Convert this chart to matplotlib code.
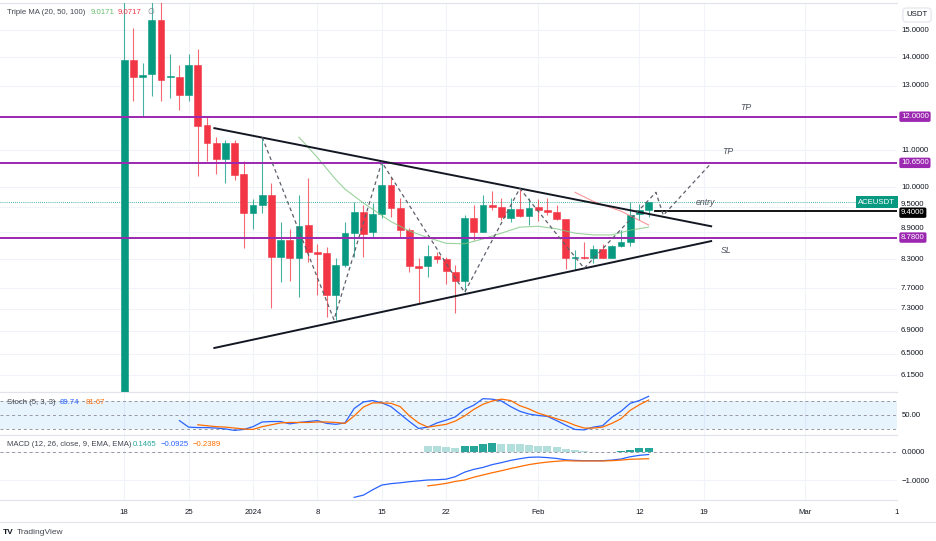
import numpy as np
import matplotlib
matplotlib.use('Agg')
import matplotlib.pyplot as plt
from matplotlib.ticker import NullLocator
from matplotlib.lines import Line2D
from matplotlib.transforms import offset_copy

plt.rcParams['font.family'] = ['Liberation Sans', 'DejaVu Sans']

# daily candles, day 0 = 18 Dec 2023 (ACEUSDT)
opens = [5.5, 13.9, 13.3, 13.4, 15.4, 13.28, 13.3, 12.7, 13.7, 11.75,
         11.2, 10.75, 11.2, 10.35, 9.35, 9.55, 9.8, 8.35, 8.72, 8.33,
         9.06, 8.46, 8.44, 7.56, 8.17, 8.88, 9.38, 8.9, 9.33, 10.07,
         9.47, 8.95, 8.15, 8.15, 8.38, 8.3, 8.03, 7.85, 9.23, 8.9,
         9.55, 9.5, 9.23, 9.45, 9.28, 9.5, 9.44, 9.38, 9.2, 8.32,
         8.34, 8.32, 8.52, 8.32, 8.6, 8.67, 9.33, 9.44]
highs = [16.5, 15.1, 13.8, 16.5, 16.5, 14.1, 13.7, 14.1, 14.3, 12.0,
         11.4, 11.3, 11.3, 10.7, 9.7, 11.4, 10.1, 9.13, 8.97, 9.8,
         10.23, 8.64, 8.57, 8.32, 9.13, 9.62, 9.55, 9.6, 10.67, 10.26,
         9.72, 9.0, 8.32, 8.62, 8.45, 8.35, 8.17, 9.3, 9.56, 9.8,
         9.9, 9.72, 9.72, 9.95, 9.72, 9.7, 9.72, 9.56, 9.2, 8.5,
         8.68, 8.62, 8.64, 8.62, 8.95, 9.62, 9.58, 9.63]
lows = [5.5, 12.5, 12.0, 12.65, 12.5, 12.6, 12.2, 12.5, 10.3, 10.7,
        10.35, 10.1, 10.2, 8.55, 8.97, 9.35, 7.32, 7.83, 7.85, 7.53,
        8.24, 7.56, 7.15, 7.10, 8.13, 8.35, 8.35, 8.77, 9.23, 9.25,
        8.78, 8.03, 7.41, 7.93, 8.22, 7.79, 7.22, 7.63, 8.72, 8.9,
        9.44, 9.18, 9.13, 9.25, 9.07, 9.16, 9.3, 9.18, 8.09, 8.07,
        8.3, 8.22, 8.32, 8.32, 8.57, 8.6, 9.18, 9.25]
closes = [13.9, 13.3, 13.38, 15.4, 13.2, 13.32, 12.7, 13.7, 11.73, 11.2,
          10.75, 11.2, 10.33, 9.35, 9.56, 9.8, 8.35, 8.72, 8.33, 9.04,
          8.45, 8.42, 7.56, 8.17, 8.88, 9.38, 8.86, 9.33, 10.07, 9.47,
          8.95, 8.15, 8.12, 8.38, 8.3, 8.05, 7.85, 9.23, 8.9, 9.55,
          9.5, 9.25, 9.45, 9.28, 9.47, 9.44, 9.38, 9.2, 8.32, 8.34,
          8.33, 8.52, 8.32, 8.59, 8.67, 9.3, 9.44, 9.62]

ma20_days = [19, 21, 23, 24, 26, 29, 31, 33, 35, 37, 39, 41, 43, 45, 47, 49, 51, 53, 55, 57]
ma20_vals = [11.38, 10.8, 10.2, 9.95, 9.6, 9.15, 8.93, 8.78, 8.65, 8.64,
             8.75, 8.88, 9.02, 9.04, 8.98, 8.88, 8.84, 8.84, 8.95, 9.02]
ma50_days = [49, 51, 54, 57]
ma50_vals = [9.87, 9.64, 9.4, 9.07]

stoch_k_start = 6
stoch_k = [38, 24, 23, 23, 22, 20, 17, 19, 25, 35, 36, 36, 31, 34, 36, 38,
           32, 30, 33, 64, 78, 81, 76, 68, 52, 36, 21, 24, 33, 39, 46,
           62, 71, 85, 84, 80, 68, 58, 52, 49, 47, 38, 28, 19, 18, 24, 27,
           45, 58, 75, 81, 90]
stoch_d_start = 8
stoch_d = [29, 27, 25, 24, 22, 20, 19, 25, 29, 33, 34, 34, 34, 35, 35, 34,
           32, 48, 67, 76, 76, 75, 68, 48, 33, 24, 27, 30, 37, 48, 62, 73,
           80, 84, 81, 70, 63, 54, 48, 42, 36, 28, 22, 22, 24, 32, 42, 60,
           72, 82]

macd_start = 25
macd_line = [-1.62, -1.54, -1.35, -1.18, -1.13, -1.10, -1.06, -1.03, -1.0,
             -0.99, -0.97, -0.88, -0.72, -0.62, -0.55, -0.45, -0.38, -0.30,
             -0.24, -0.19, -0.18, -0.20, -0.23, -0.28, -0.30, -0.31, -0.31,
             -0.31, -0.29, -0.25, -0.17, -0.12, -0.09]
signal_start = 33
macd_signal = [-1.21, -1.17, -1.12, -1.05, -1.0, -0.9, -0.82, -0.74, -0.67,
               -0.59, -0.52, -0.45, -0.40, -0.36, -0.33, -0.31, -0.32, -0.32,
               -0.32, -0.32, -0.31, -0.29, -0.26, -0.25, -0.24]
macd_hist = [0.22, 0.21, 0.17, 0.14, 0.21, 0.23, 0.30, 0.33, 0.30, 0.30,
             0.27, 0.24, 0.23, 0.20, 0.18, 0.12, 0.06, 0.04, 0.01, -0.01,
             0.01, 0.04, 0.07, 0.13, 0.15]

price_ticks = [15, 14, 13, 11, 10, 9.5, 8.9, 8.3, 7.7, 7.3, 6.9, 6.5, 6.15]
level_lines = [12.0, 10.65, 8.78]
entry_level = 9.40
entry_from = 57.7
last_price = 9.62

date_ticks = [0, 7, 14, 21, 28, 35, 45, 56, 63, 74, 84]
date_labels = ['18', '25', '2024', '8', '15', '22', 'Feb', '12', '19', 'Mar', '1']

trend_days = [9.8, 63.8]
upper_trend = [11.65, 9.04]
lower_trend = [6.60, 8.70]
zigzag_days = [15, 22.8, 28, 37, 43, 50, 57.8, 58.6, 63.8]
zigzag_prices = [11.38, 7.10, 10.67, 7.62, 9.97, 8.11, 9.87, 9.30, 10.64]

notes = [('TP', 67.6, 12.29), ('TP', 65.6, 10.97), ('entry', 63.2, 9.62), ('SL', 65.4, 8.50)]

GREEN = '#089981'
RED = '#f23645'
PURPLE = '#9c27b0'
GRID = '#f0f3fa'
SEP = '#e0e3eb'
TXT = '#131722'
FS = 5.6

W, H = 936, 541
def fx(px):
    return px / W
def fy(py):
    return 1 - py / H

fig = plt.figure(figsize=(9.36, 5.41), dpi=100)
ax = fig.add_axes([0, fy(392), fx(897), (392 - 3) / H])
ax_st = fig.add_axes([0, fy(435), fx(897), 43 / H], sharex=ax)
ax_md = fig.add_axes([0, fy(500), fx(897), 65 / H], sharex=ax)

# ---- price panel
o = np.array(opens); h = np.array(highs); l = np.array(lows); c = np.array(closes)
days = np.arange(len(c))
cols = np.where(c >= o, GREEN, RED)
ax.set_yscale('log')
ax.vlines(days, l, h, colors=cols, lw=0.8, alpha=0.75, zorder=3)
ax.bar(days, np.abs(c - o), bottom=np.minimum(o, c), width=0.72,
       color=cols, edgecolor=cols, lw=0.4, zorder=4)

ax.plot(ma20_days, ma20_vals, color='#81c784', lw=0.8, alpha=0.8, zorder=5)
ax.plot(ma50_days, ma50_vals, color='#f77c80', lw=0.8, alpha=0.8, zorder=5)

ax.axhline(last_price, color=GREEN, lw=0.6, ls=(0, (1, 1.5)), zorder=2)
for lv in level_lines:
    ax.axhline(lv, color=PURPLE, lw=1.4, zorder=6)
ax.plot([entry_from, 90], [entry_level, entry_level], color='black', lw=1.3, zorder=6)
ax.plot(trend_days, upper_trend, color='#131722', lw=1.4, zorder=6)
ax.plot(trend_days, lower_trend, color='#131722', lw=1.4, zorder=6)
ax.plot(zigzag_days, zigzag_prices, color='#5d606b', lw=0.9, ls=(0, (3, 2.5)), zorder=6)
for txt, dx, py in notes:
    ax.text(dx, py, txt, fontsize=6.3, style='italic', color='#50535e',
            ha='center', va='center', zorder=7)

ax.set_xlim(-13.5, 83.5)
ax.set_ylim(5.89, 16.1)
ax.set_yticks(price_ticks)
ax.yaxis.set_minor_locator(NullLocator())
ax.tick_params(axis='y', length=0, labelleft=False, labelright=False)
ax.grid(True, color=GRID, lw=0.8, zorder=0)
ax.set_axisbelow(True)

# price scale labels (a couple nudged up like on the screen, where boxes sit close)
ytr = ax.get_yaxis_transform()
nudge = {9.5: 3, 8.9: 4}
for v in price_ticks:
    tr = offset_copy(ytr, fig=fig, x=0, y=nudge.get(v, 0), units='dots')
    ax.text(1.0045, v, '%.4f' % v, transform=tr, fontsize=FS, color=TXT,
            ha='left', va='center', clip_on=False, zorder=9)
for lv in level_lines:
    ax.text(1.0045, lv, '%.4f' % lv, transform=ytr, fontsize=FS, color='white',
            ha='left', va='center', clip_on=False, zorder=10,
            bbox=dict(boxstyle='round,pad=0.22', fc=PURPLE, ec='none'))
ax.text(1.0045, entry_level, '%.4f' % entry_level,
        transform=offset_copy(ytr, fig=fig, x=0, y=-1.5, units='dots'), fontsize=FS,
        color='white', ha='left', va='center', clip_on=False, zorder=10,
        bbox=dict(boxstyle='round,pad=0.22', fc='black', ec='none'))
ax.text(0.998, last_price, 'ACEUSDT', transform=ytr, fontsize=FS, color='white',
        ha='right', va='center', zorder=10,
        bbox=dict(boxstyle='square,pad=0.3', fc=GREEN, ec='none'))

# ---- stochastic panel
kd = np.arange(stoch_k_start, stoch_k_start + len(stoch_k))
dd = np.arange(stoch_d_start, stoch_d_start + len(stoch_d))
ax_st.axhspan(20, 80, color='#2196f3', alpha=0.1, lw=0)
for lv in (80, 50, 20):
    ax_st.axhline(lv, color='#9598a1', lw=0.7, ls=(0, (3, 3)))
ax_st.plot(kd, stoch_k, color='#2962ff', lw=0.9)
ax_st.plot(dd, stoch_d, color='#ff6d00', lw=0.9)
ax_st.set_ylim(7.1, 99.3)
ax_st.yaxis.tick_right()
ax_st.set_yticks([50])
ax_st.set_yticklabels(['50.00'])
ax_st.tick_params(axis='y', length=0, pad=3.5, labelsize=FS, labelcolor=TXT)
ax_st.xaxis.grid(True, color=GRID, lw=0.8)
ax_st.set_axisbelow(True)

# ---- MACD panel
hd = np.arange(signal_start, signal_start + len(macd_hist))
hcols = []
prev = None
for v in macd_hist:
    if v >= 0:
        hcols.append('#26a69a' if prev is not None and v > prev else '#b2dfdb')
    else:
        hcols.append('#ff5252' if prev is not None and v < prev else '#ffcdd2')
    prev = v
ax_md.bar(hd, macd_hist, width=0.85, color=hcols, zorder=2)
ax_md.axhline(0, color='#9598a1', lw=0.7, ls=(0, (3, 3)), zorder=1)
md = np.arange(macd_start, macd_start + len(macd_line))
ax_md.plot(md, macd_line, color='#2962ff', lw=0.9, zorder=3)
ax_md.plot(hd, macd_signal, color='#ff6d00', lw=0.9, zorder=3)
ax_md.set_ylim(-1.714, 0.607)
ax_md.yaxis.tick_right()
ax_md.set_yticks([0, -1])
ax_md.set_yticklabels(['0.0000', '\u22121.0000'])
ax_md.tick_params(axis='y', length=0, pad=3.5, labelsize=FS, labelcolor=TXT)
ax_md.grid(True, color=GRID, lw=0.8, zorder=0)
ax_md.set_axisbelow(True)

ax_md.set_xticks(date_ticks)
ax_md.set_xticklabels(date_labels)
ax_md.tick_params(axis='x', length=0, pad=6.8, labelsize=FS, labelcolor=TXT)
ax.tick_params(axis='x', labelbottom=False, length=0)
ax_st.tick_params(axis='x', labelbottom=False, length=0)

for a in (ax, ax_st, ax_md):
    a.spines['left'].set_visible(False)
    a.spines['right'].set_visible(False)
    a.spines['top'].set_color(SEP)
    a.spines['bottom'].set_color(SEP)
    a.spines['top'].set_linewidth(0.8)
    a.spines['bottom'].set_linewidth(0.8)

fig.add_artist(Line2D([0, 1], [fy(522), fy(522)], color=SEP, lw=0.8))

# ---- legends
fig.text(fx(7), fy(13), 'Triple MA (20, 50, 100)', fontsize=FS, color='#434651', va='center')
fig.text(fx(91), fy(13), '9.0171', fontsize=FS, color='#66bb6a', va='center')
fig.text(fx(118), fy(13), '9.0717', fontsize=FS, color=RED, va='center')
fig.text(fx(147), fy(13), '\u2205', fontsize=FS, color='#787b86', va='center')

fig.text(fx(7), fy(402), 'Stoch (5, 3, 3)', fontsize=FS, color='#434651', va='center')
fig.text(fx(60), fy(402), '89.74', fontsize=FS, color='#2962ff', va='center')
fig.text(fx(86), fy(402), '81.67', fontsize=FS, color='#ff6d00', va='center')

fig.text(fx(7), fy(445), 'MACD (12, 26, close, 9, EMA, EMA)', fontsize=FS, color='#434651', va='center')
fig.text(fx(133), fy(445), '0.1465', fontsize=FS, color='#26a69a', va='center')
fig.text(fx(161), fy(445), '\u22120.0925', fontsize=FS, color='#2962ff', va='center')
fig.text(fx(193), fy(445), '\u22120.2389', fontsize=FS, color='#ff6d00', va='center')

fig.text(fx(917), fy(15), 'USDT', fontsize=FS, color=TXT, ha='center', va='center',
         bbox=dict(boxstyle='round,pad=0.45', fc='white', ec=SEP, lw=0.8))

fig.text(fx(3), fy(533), 'TV', fontsize=6, color=TXT, weight='bold', va='center')
fig.text(fx(17), fy(533), 'TradingView', fontsize=6, color='#434651', va='center')

fig.savefig('out.png', dpi=100)
